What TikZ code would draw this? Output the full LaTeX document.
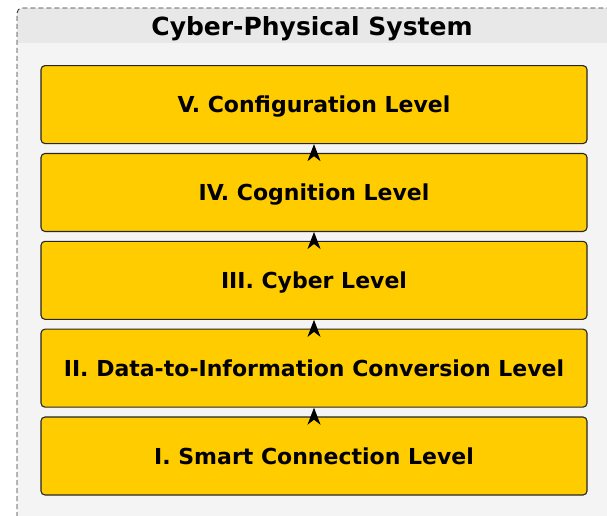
\documentclass[tikz,border=0pt]{standalone}
\usepackage{fontspec}
\setmainfont{DejaVu Sans}
\usetikzlibrary{positioning,arrows.meta}
\definecolor{levelyellow}{HTML}{FFCC00}
\definecolor{cpsband}{HTML}{E8E8E8}
\definecolor{cpsbody}{HTML}{F4F4F4}
\begin{document}
\begin{tikzpicture}[x=1pt,y=1pt]

  % Definitions
  \tikzstyle{Level} = [rectangle, rounded corners=4pt, minimum width=546pt, minimum height=78pt, text centered, text height=16pt, text depth=0pt, draw=black!85, line width=1.1pt, fill=levelyellow, font=\fontsize{22}{26}\selectfont\bfseries]
  \tikzstyle{arrow} = [line width=1pt, -{Stealth[length=17pt,width=13pt,inset=5pt]}]

  \useasboundingbox (0,0) rectangle (607,-516);

  % outer system frame
  \fill[cpsbody, rounded corners=5pt] (17,-522) rectangle (612,-8);
  \begin{scope}
    \clip[rounded corners=5pt] (17,-522) rectangle (612,-8);
    \fill[cpsband] (17,-43) rectangle (612,-8);
  \end{scope}
  \draw[dash pattern=on 5pt off 3pt, draw=black!80, line width=0.9pt, rounded corners=5pt] (17,-522) rectangle (612,-8);

  \node (title) at (312,-29) [font=\fontsize{25}{30}\selectfont\bfseries] {Cyber-Physical System};

  \node (L1) [Level] at (314,-456) {I. Smart Connection Level};
  \node (L2) [Level, above=8.75pt of L1] {II. Data-to-Information Conversion Level};
  \node (L3) [Level, above=8.75pt of L2] {III. Cyber Level};
  \node (L4) [Level, above=8.75pt of L3] {IV. Cognition Level};
  \node (L5) [Level, above=8.75pt of L4] {V. Configuration Level};

  \draw [arrow] (L1) -- (L2);
  \draw [arrow] (L2) -- (L3);
  \draw [arrow] (L3) -- (L4);
  \draw [arrow] (L4) -- (L5);

\end{tikzpicture}
\end{document}
